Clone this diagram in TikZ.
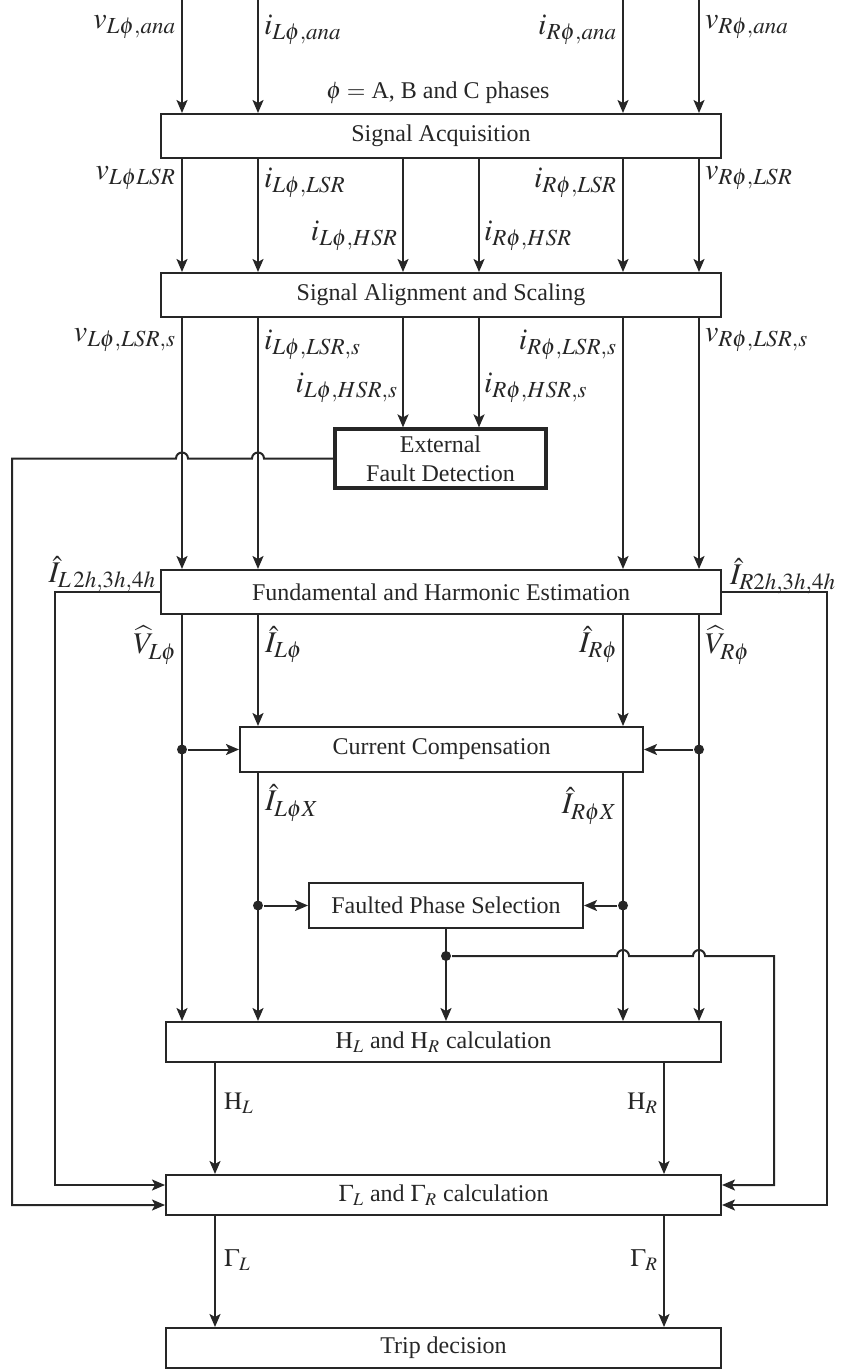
\documentclass[tikz,border=0pt]{standalone}
\usepackage{mathptmx}
\usepackage{fontspec}
\setmainfont{Liberation Serif}
\usepackage{tikz}
\usetikzlibrary{arrows.meta,calc,positioning}
\DeclareMathSizes{15}{15}{11.5}{9}
\DeclareMathSizes{12.5}{12.5}{9.5}{7}

\begin{document}
\begin{tikzpicture}[x=0.5pt,y=-0.5pt,line width=1pt,color=black!85,
  blk/.style={draw,line width=1pt,minimum height=22pt,inner sep=0pt,font=\fontsize{12}{14.5}\selectfont},
  sig/.style={font=\fontsize{15}{17}\selectfont,inner sep=0pt},
  reslbl/.style={font=\fontsize{12.5}{15}\selectfont,inner sep=0pt},
  arr/.style={-{Stealth[length=6.5pt,width=5.5pt,inset=1.5pt]}},
  dot/.style={circle,fill,inner sep=0pt,minimum size=5pt}]
\useasboundingbox (0,0) rectangle (846,1369);

% Columns
\coordinate (ca) at (182,0); \coordinate (cb) at (258,0); \coordinate (cc) at (403,0);
\coordinate (cd) at (479,0); \coordinate (ce) at (623,0); \coordinate (cf) at (699,0);
\coordinate (xl) at (12,0); \coordinate (xm) at (55,0); \coordinate (xq) at (774,0); \coordinate (xr) at (827,0);
\coordinate (xh) at (215,0); \coordinate (xk) at (664,0);

% Blocks
\node[blk,minimum width=280pt] (acq) at (441,136) {Signal Acquisition};
\node[blk,minimum width=280pt] (aln) at (441,295) {Signal Alignment and Scaling};
\node[blk,line width=1.6pt,minimum width=105.5pt,minimum height=29.5pt,align=center] (efd) at (440.5,458.5) {External\\Fault Detection};
\node[blk,minimum width=280pt] (fhe) at (441,592) {Fundamental and Harmonic Estimation};
\node[blk,minimum width=201.5pt,minimum height=22.5pt] (cmp) at (441.5,749.5) {Current Compensation};
\node[blk,minimum width=137pt,minimum height=22.5pt] (fps) at (446,905.5) {Faulted Phase Selection};
\node[blk,minimum width=277.5pt,minimum height=20pt] (hcl) at (443.5,1042) {$\mathrm{H}_L$ and $\mathrm{H}_R$ calculation};
\node[blk,minimum width=277.5pt,minimum height=20pt] (gcl) at (443.5,1195) {$\Gamma_L$ and $\Gamma_R$ calculation};
\node[blk,minimum width=277.5pt,minimum height=20pt] (trp) at (443.5,1348) {Trip decision};
\node[font=\fontsize{12}{14}\selectfont,inner sep=0pt] (phs) at (438,93) {$\phi=$ A, B and C phases};

\coordinate (gl1) at ($(gcl.west)+(0,-10)$); \coordinate (gl2) at ($(gcl.west)+(0,10)$);
\coordinate (gr1) at ($(gcl.east)+(0,-10)$); \coordinate (gr2) at ($(gcl.east)+(0,10)$);

% Inputs and acquisition
\draw[arr] (ca) -- (ca |- acq.north); \draw[arr] (cb) -- (cb |- acq.north);
\draw[arr] (ce) -- (ce |- acq.north); \draw[arr] (cf) -- (cf |- acq.north);
\draw[arr] (ca |- acq.south) -- (ca |- aln.north); \draw[arr] (cb |- acq.south) -- (cb |- aln.north);
\draw[arr] (cc |- acq.south) -- (cc |- aln.north); \draw[arr] (cd |- acq.south) -- (cd |- aln.north);
\draw[arr] (ce |- acq.south) -- (ce |- aln.north); \draw[arr] (cf |- acq.south) -- (cf |- aln.north);

% Alignment outputs
\draw[arr] (ca |- aln.south) -- (ca |- fhe.north); \draw[arr] (cb |- aln.south) -- (cb |- fhe.north);
\draw[arr] (ce |- aln.south) -- (ce |- fhe.north); \draw[arr] (cf |- aln.south) -- (cf |- fhe.north);
\draw[arr] (cc |- aln.south) -- (cc |- efd.north); \draw[arr] (cd |- aln.south) -- (cd |- efd.north);

% External fault flag
\draw[arr] (efd.west) -- ($(cb |- efd.west)+(6,0)$) arc[start angle=0,end angle=180,radius=3pt]
  -- ($(ca |- efd.west)+(6,0)$) arc[start angle=0,end angle=180,radius=3pt]
  -- (xl |- efd.west) -- (xl |- gl2) -- (gl2);

% Harmonics
\draw[arr] (fhe.west) -- (xm |- fhe.west) -- (xm |- gl1) -- (gl1);
\draw[arr] (fhe.east) -- (xr |- fhe.east) -- (xr |- gr2) -- (gr2);

% Phasors
\draw[arr] (ca |- fhe.south) -- (ca |- hcl.north); \draw[arr] (cf |- fhe.south) -- (cf |- hcl.north);
\draw[arr] (cb |- fhe.south) -- (cb |- cmp.north); \draw[arr] (ce |- fhe.south) -- (ce |- cmp.north);
\draw[arr] (cb |- cmp.south) -- (cb |- hcl.north); \draw[arr] (ce |- cmp.south) -- (ce |- hcl.north);
\node[dot] (dva) at (ca |- cmp.west) {}; \node[dot] (dvb) at (cf |- cmp.east) {};
\draw[arr] (dva) -- (cmp.west); \draw[arr] (dvb) -- (cmp.east);
\node[dot] (dia) at (cb |- fps.west) {}; \node[dot] (dib) at (ce |- fps.east) {};
\draw[arr] (dia) -- (fps.west); \draw[arr] (dib) -- (fps.east);

% Faulted phase
\draw[arr] (fps.south) -- (fps.south |- hcl.north);
\node[dot] (dfp) at ($(fps.south)+(0,27)$) {};
\draw[arr] (dfp) -- ($(ce |- dfp)+(-6,0)$) arc[start angle=180,end angle=0,radius=3pt]
  -- ($(cf |- dfp)+(-6,0)$) arc[start angle=180,end angle=0,radius=3pt]
  -- (xq |- dfp) -- (xq |- gr1) -- (gr1);

% Outputs
\draw[arr] (xh |- hcl.south) -- (xh |- gcl.north); \draw[arr] (xk |- hcl.south) -- (xk |- gcl.north);
\draw[arr] (xh |- gcl.south) -- (xh |- trp.north); \draw[arr] (xk |- gcl.south) -- (xk |- trp.north);

% Signal names
\node[sig,anchor=east] (sva) at (177,27) {$v_{L\phi,ana}$}; \node[sig,anchor=west] (sia) at (263,30) {$i_{L\phi,ana}$};
\node[sig,anchor=east] (sib) at (618,30) {$i_{R\phi,ana}$}; \node[sig,anchor=west] (svb) at (704,27) {$v_{R\phi,ana}$};
\node[sig,anchor=east] (lva) at (177,178) {$v_{L\phi LSR}$}; \node[sig,anchor=west] (lia) at (263,183) {$i_{L\phi,LSR}$};
\node[sig,anchor=east] (hia) at (399,236) {$i_{L\phi,HSR}$}; \node[sig,anchor=west] (hib) at (483,236) {$i_{R\phi,HSR}$};
\node[sig,anchor=east] (lib) at (618,183) {$i_{R\phi,LSR}$}; \node[sig,anchor=west] (lvb) at (704,178) {$v_{R\phi,LSR}$};
\node[sig,anchor=east] (ava) at (177,340) {$v_{L\phi,LSR,s}$}; \node[sig,anchor=west] (aia) at (263,345) {$i_{L\phi,LSR,s}$};
\node[sig,anchor=east] (aha) at (399,388) {$i_{L\phi,HSR,s}$}; \node[sig,anchor=west] (ahb) at (483,388) {$i_{R\phi,HSR,s}$};
\node[sig,anchor=east] (aib) at (618,345) {$i_{R\phi,LSR,s}$}; \node[sig,anchor=west] (avb) at (704,340) {$v_{R\phi,LSR,s}$};
\node[sig,anchor=east] (hma) at (157,574) {$\hat{I}_{L\,2h,3h,4h}$}; \node[sig,anchor=west] (hmb) at (729,576) {$\hat{I}_{R2h,3h,4h}$};
\node[sig,anchor=east] (pva) at (178,645) {$\widehat{V}_{L\phi}$}; \node[sig,anchor=west] (pia) at (264,645) {$\hat{I}_{L\phi}$};
\node[sig,anchor=east] (pib) at (619,645) {$\hat{I}_{R\phi}$}; \node[sig,anchor=west] (pvb) at (704,645) {$\widehat{V}_{R\phi}$};
\node[sig,anchor=west] (xia) at (264,803) {$\hat{I}_{L\phi X}$}; \node[sig,anchor=east] (xib) at (618,806) {$\hat{I}_{R\phi X}$};
\node[reslbl,anchor=west] (hla) at (223,1103) {$\mathrm{H}_L$}; \node[reslbl,anchor=east] (hlb) at (659,1103) {$\mathrm{H}_R$};
\node[reslbl,anchor=west] (gla) at (223,1260) {$\Gamma_L$}; \node[reslbl,anchor=east] (glb) at (659,1260) {$\Gamma_R$};
\end{tikzpicture}
\end{document}
